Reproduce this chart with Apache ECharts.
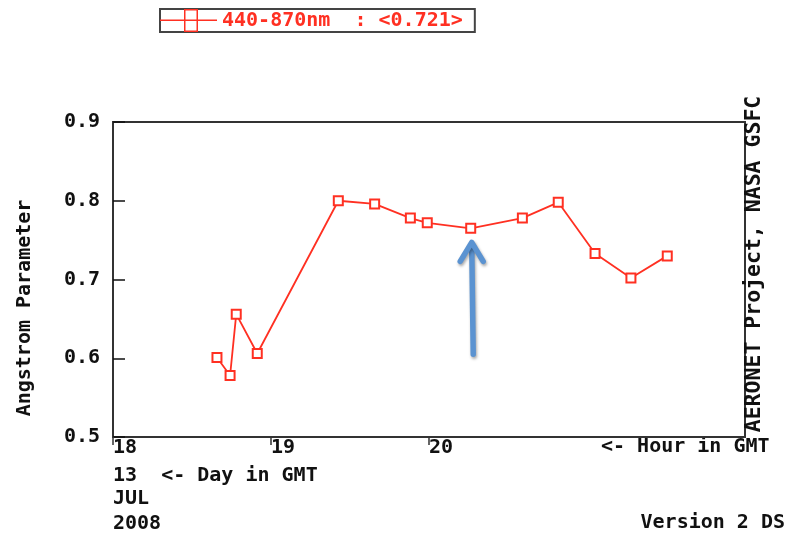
<!DOCTYPE html>
<html>
<head>
<meta charset="utf-8">
<script src="https://cdn.jsdelivr.net/npm/echarts@6/dist/echarts.min.js"></script>
<style>
  html, body { margin: 0; padding: 0; background: #fff; }
  #chart { width: 786px; height: 533px; }
</style>
</head>
<body>
<div id="chart"></div>
<script>
// Angstrom parameter 440-870 nm, one day of AERONET observations (hour in GMT)
const hours    = [18.658, 18.741, 18.780, 18.913, 19.426, 19.656, 19.882, 19.989, 20.264, 20.591, 20.818, 21.051, 21.278, 21.508];
const angstrom = [0.601, 0.578, 0.656, 0.606, 0.800, 0.796, 0.778, 0.772, 0.765, 0.778, 0.798, 0.733, 0.702, 0.730];
const hourTicks = [18, 19, 20];
const seriesName = '440-870nm';
const dayLines = ['13  <- Day in GMT', 'JUL', '2008'];
const highlightIndex = 8; // observation marked with the arrow

const RED = '#ff3022';
const INK = '#111';
const FRAME = '#333';
const FAMILY = '"DejaVu Sans Mono", monospace';
const FONT = 'bold 20px ' + FAMILY;

const mean = angstrom.reduce((a, b) => a + b, 0) / angstrom.length;
const legendName = seriesName + '  : <' + mean.toFixed(3) + '>';

const chart = echarts.init(document.getElementById('chart'), null, { renderer: 'canvas' });

// legend glyph: horizontal rule with an outlined box across it (57 x 23 units)
const legendIcon = 'path://M0 10.5 H57 V12 H0 Z M24 0 H38 V23 H24 Z M25.5 1.5 V21.5 H36.5 V1.5 Z';

chart.setOption({
  animation: false,
  backgroundColor: '#fff',
  legend: {
    left: 160,
    top: 9,
    padding: [0, 12, 0, 0],
    itemWidth: 57,
    itemHeight: 23,
    itemGap: 0,
    icon: legendIcon,
    itemStyle: { color: RED, borderWidth: 0 },
    borderColor: '#444',
    borderWidth: 2,
    textStyle: { color: RED, fontFamily: FAMILY, fontWeight: 'bold', fontSize: 20 },
    data: [legendName]
  },
  grid: {
    left: 113, right: 41, top: 122, bottom: 96,
    show: true, borderColor: FRAME, borderWidth: 2,
    outerBoundsMode: 'none'
  },
  xAxis: {
    type: 'value',
    min: 18, max: 22, interval: 1,
    splitLine: { show: false },
    axisLine: { show: true, lineStyle: { color: FRAME, width: 2 } },
    axisTick: { show: true, customValues: hourTicks, length: 8, lineStyle: { color: FRAME, width: 1.5 } },
    axisLabel: {
      customValues: hourTicks,
      align: 'left',
      margin: 1,
      color: INK,
      fontFamily: FAMILY, fontWeight: 'bold', fontSize: 20,
      formatter: v => String(v)
    }
  },
  yAxis: {
    type: 'value',
    min: 0.5, max: 0.9, interval: 0.1,
    splitLine: { show: false },
    axisLine: { show: true, lineStyle: { color: FRAME, width: 2 } },
    axisTick: { show: true, inside: true, length: 12, lineStyle: { color: INK, width: 1.5 } },
    axisLabel: {
      margin: 13,
      color: INK,
      fontFamily: FAMILY, fontWeight: 'bold', fontSize: 20,
      formatter: v => v.toFixed(1)
    }
  },
  series: [{
    name: legendName,
    type: 'line',
    data: hours.map((h, i) => [h, angstrom[i]]),
    symbol: 'emptyRect',
    symbolSize: 9,
    lineStyle: { color: RED, width: 1.8 },
    itemStyle: { color: RED, borderColor: RED, borderWidth: 1.8 }
  }]
});

// annotation texts and the arrow pointing at the highlighted observation
const [px, py] = chart.convertToPixel({ gridIndex: 0 }, [hours[highlightIndex], angstrom[highlightIndex]]);
const tipY = py + 13;
const ARROW = '#5b93d1';
const arrowShadow = { shadowBlur: 3, shadowOffsetX: 1, shadowOffsetY: 2, shadowColor: 'rgba(0,0,0,0.35)' };

function label(text, x, y, align, rotation, font) {
  return {
    type: 'text', x: x, y: y, rotation: rotation || 0,
    style: { text: text, font: font || FONT, fill: INK, align: align, verticalAlign: 'middle' }
  };
}

chart.setOption({
  graphic: [
    label('<- Hour in GMT', 601, 447, 'left'),
    label(dayLines[0], 113, 476, 'left'),
    label(dayLines[1], 113, 499, 'left'),
    label(dayLines[2], 113, 524, 'left'),
    label('Version 2 DS', 785, 523, 'right'),
    label('Angstrom Parameter', 25, 308, 'center', Math.PI / 2),
    label('AERONET Project, NASA GSFC', 754, 264, 'center', Math.PI / 2, 'bold 21.5px ' + FAMILY),
    {
      type: 'line',
      shape: { x1: px + 2.5, y1: py + 126, x2: px + 1, y2: tipY + 3 },
      style: Object.assign({ stroke: ARROW, lineWidth: 5.5, lineCap: 'round' }, arrowShadow)
    },
    {
      type: 'polyline',
      shape: { points: [[px - 10.5, tipY + 20], [px + 1, tipY + 1], [px + 12.5, tipY + 20]] },
      style: Object.assign({ stroke: ARROW, fill: null, lineWidth: 5.5, lineCap: 'round', lineJoin: 'round' }, arrowShadow)
    }
  ]
});
</script>
</body>
</html>
